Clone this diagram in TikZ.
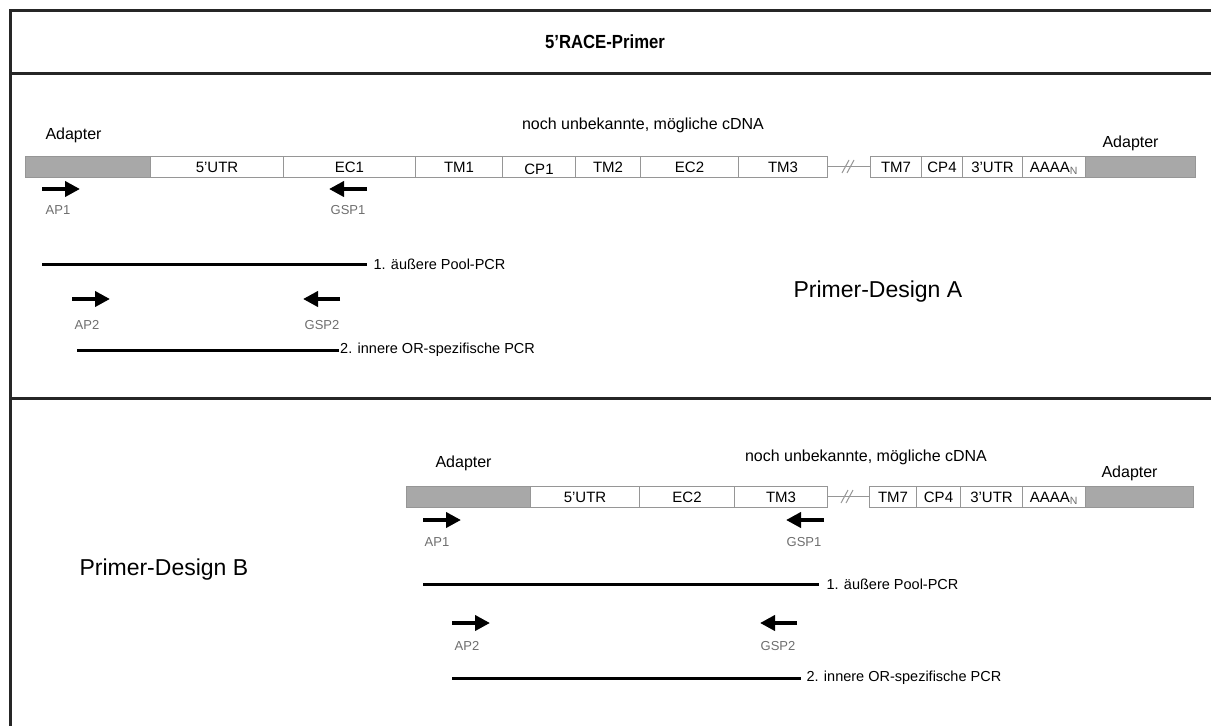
\documentclass[tikz,border=0pt]{standalone}
\usepackage{fontspec}
\setmainfont{Liberation Sans}
\usetikzlibrary{arrows.meta}
\definecolor{segline}{RGB}{150,150,150}
\definecolor{adapterfill}{RGB}{168,168,168}
\definecolor{plabgray}{RGB}{110,110,110}
\newcommand{\segm}[6]{\node[#6, minimum width={(#3-#2)*1pt}] (#1) at (#2,#4) {#5};}
\begin{document}
\begin{tikzpicture}[x=1pt,y=-1pt,
 seg/.style={draw=segline, line width=1pt, minimum height=21pt, inner sep=0pt, anchor=west,
   font=\fontsize{15}{15}\selectfont, text height=12pt, text depth=0pt, fill=white},
 adapt/.style={seg, fill=adapterfill},
 primer/.style={line width=4.5pt, -{Triangle[length=15pt,width=15pt]}},
 plab/.style={font=\fontsize{13}{13}\selectfont, text=plabgray, anchor=base},
 pcr/.style={line width=3pt},
 lab/.style={font=\fontsize{14.5}{15}\selectfont, anchor=west},
 adl/.style={font=\fontsize{16}{16}\selectfont, anchor=base west},
 cdna/.style={font=\fontsize{16}{16}\selectfont, anchor=base},
 big/.style={font=\fontsize{23}{23}\selectfont, anchor=base west},
 frame/.style={line width=3pt, draw=black!85}]
\useasboundingbox (0,0) rectangle (1211,726);
% frame
\draw[frame] (10,726) -- (10,10) -- (1211,10);
\draw[frame] (10,73) -- (1211,73);
\draw[frame] (10,398) -- (1211,398);
\node[font=\bfseries\fontsize{19}{19}\selectfont, anchor=base] (title) at (605,48) {\scalebox{0.88}[1]{5’RACE-Primer}};

% ---------- Design A ----------
\node[adl] (adlA) at (42,139) {Adapter};
\node[cdna] (cdnaA) at (643,129) {noch unbekannte, mögliche cDNA};
\node[adl] (adrA) at (1099,147) {Adapter};
\draw[segline, line width=1pt] (827,166.5) -- (870,166.5);
\draw[segline, line width=1pt] (842,173) -- (849,160) (847,173) -- (854,160);
\segm{aA}{25}{150}{166.5}{}{adapt}
\segm{utrA}{150}{283}{166.5}{5'UTR}{seg}
\segm{ecA}{283}{415}{166.5}{EC1}{seg}
\segm{tmA}{415}{502}{166.5}{TM1}{seg}
\segm{cpA}{502}{575}{166.5}{\raisebox{-2pt}{CP1}}{seg}
\segm{tmbA}{575}{640}{166.5}{TM2}{seg}
\segm{ecbA}{640}{738}{166.5}{EC2}{seg}
\segm{tmcA}{738}{827}{166.5}{TM3}{seg}
\segm{tmgA}{870}{921}{166.5}{TM7}{seg}
\segm{cpdA}{921}{962}{166.5}{CP4}{seg}
\segm{utrbA}{962}{1022}{166.5}{3'UTR}{seg}
\segm{polyA}{1022}{1085}{166.5}{AAAA\textsubscript{\textcolor{plabgray}{N}}}{seg}
\segm{abA}{1085}{1195}{166.5}{}{adapt}

\coordinate (ap1As) at (42,189); \coordinate (ap1Ae) at (80,189);
\draw[primer] (ap1As) -- (ap1Ae);
\node[plab] (ap1A) at (58,214) {AP1};
\coordinate (gsp1As) at (367,189); \coordinate (gsp1Ae) at (329,189);
\draw[primer] (gsp1As) -- (gsp1Ae);
\node[plab] (gsp1A) at (348,214) {GSP1};

\coordinate (l1As) at (42,264); \coordinate (l1Ae) at (367,264);
\draw[pcr] (l1As) -- (l1Ae);
\node[lab] (l1A) at (370,264) {1. äußere Pool-PCR};

\coordinate (ap2As) at (72,299); \coordinate (ap2Ae) at (110,299);
\draw[primer] (ap2As) -- (ap2Ae);
\node[plab] (ap2A) at (87,329) {AP2};
\coordinate (gsp2As) at (340,299); \coordinate (gsp2Ae) at (303,299);
\draw[primer] (gsp2As) -- (gsp2Ae);
\node[plab] (gsp2A) at (322,329) {GSP2};

\coordinate (l2As) at (77,350); \coordinate (l2Ae) at (339,350);
\draw[pcr] (l2As) -- (l2Ae);
\node[lab, inner sep=1pt] (l2A) at (339,350) {2. innere OR-spezifische PCR};

\node[big] (pdA) at (790,297) {Primer-Design A};

% ---------- Design B ----------
\node[adl] (adlB) at (432,467) {Adapter};
\node[cdna] (cdnaB) at (866,461) {noch unbekannte, mögliche cDNA};
\node[adl] (adrB) at (1098,477) {Adapter};
\draw[segline, line width=1pt] (827,496.5) -- (869,496.5);
\draw[segline, line width=1pt] (841,503) -- (848,490) (846,503) -- (853,490);
\segm{aB}{406}{530}{496.5}{}{adapt}
\segm{utrB}{530}{639}{496.5}{5'UTR}{seg}
\segm{ecB}{639}{734}{496.5}{EC2}{seg}
\segm{tmB}{734}{827}{496.5}{TM3}{seg}
\segm{tmgB}{869}{916}{496.5}{TM7}{seg}
\segm{cpdB}{916}{960}{496.5}{CP4}{seg}
\segm{utrbB}{960}{1022}{496.5}{3'UTR}{seg}
\segm{polyB}{1022}{1085}{496.5}{AAAA\textsubscript{\textcolor{plabgray}{N}}}{seg}
\segm{abB}{1085}{1193}{496.5}{}{adapt}

\coordinate (ap1Bs) at (423,520); \coordinate (ap1Be) at (461,520);
\draw[primer] (ap1Bs) -- (ap1Be);
\node[plab] (ap1B) at (437,546) {AP1};
\coordinate (gsp1Bs) at (824,520); \coordinate (gsp1Be) at (786,520);
\draw[primer] (gsp1Bs) -- (gsp1Be);
\node[plab] (gsp1B) at (804,546) {GSP1};

\coordinate (l1Bs) at (423,584); \coordinate (l1Be) at (819,584);
\draw[pcr] (l1Bs) -- (l1Be);
\node[lab] (l1B) at (823,584) {1. äußere Pool-PCR};

\coordinate (ap2Bs) at (452,623); \coordinate (ap2Be) at (490,623);
\draw[primer] (ap2Bs) -- (ap2Be);
\node[plab] (ap2B) at (467,650) {AP2};
\coordinate (gsp2Bs) at (797,623); \coordinate (gsp2Be) at (760,623);
\draw[primer] (gsp2Bs) -- (gsp2Be);
\node[plab] (gsp2B) at (778,650) {GSP2};

\coordinate (l2Bs) at (452,678); \coordinate (l2Be) at (801,678);
\draw[pcr] (l2Bs) -- (l2Be);
\node[lab] (l2B) at (803,678) {2. innere OR-spezifische PCR};

\node[big] (pdB) at (76,575) {Primer-Design B};
\end{tikzpicture}
\end{document}
